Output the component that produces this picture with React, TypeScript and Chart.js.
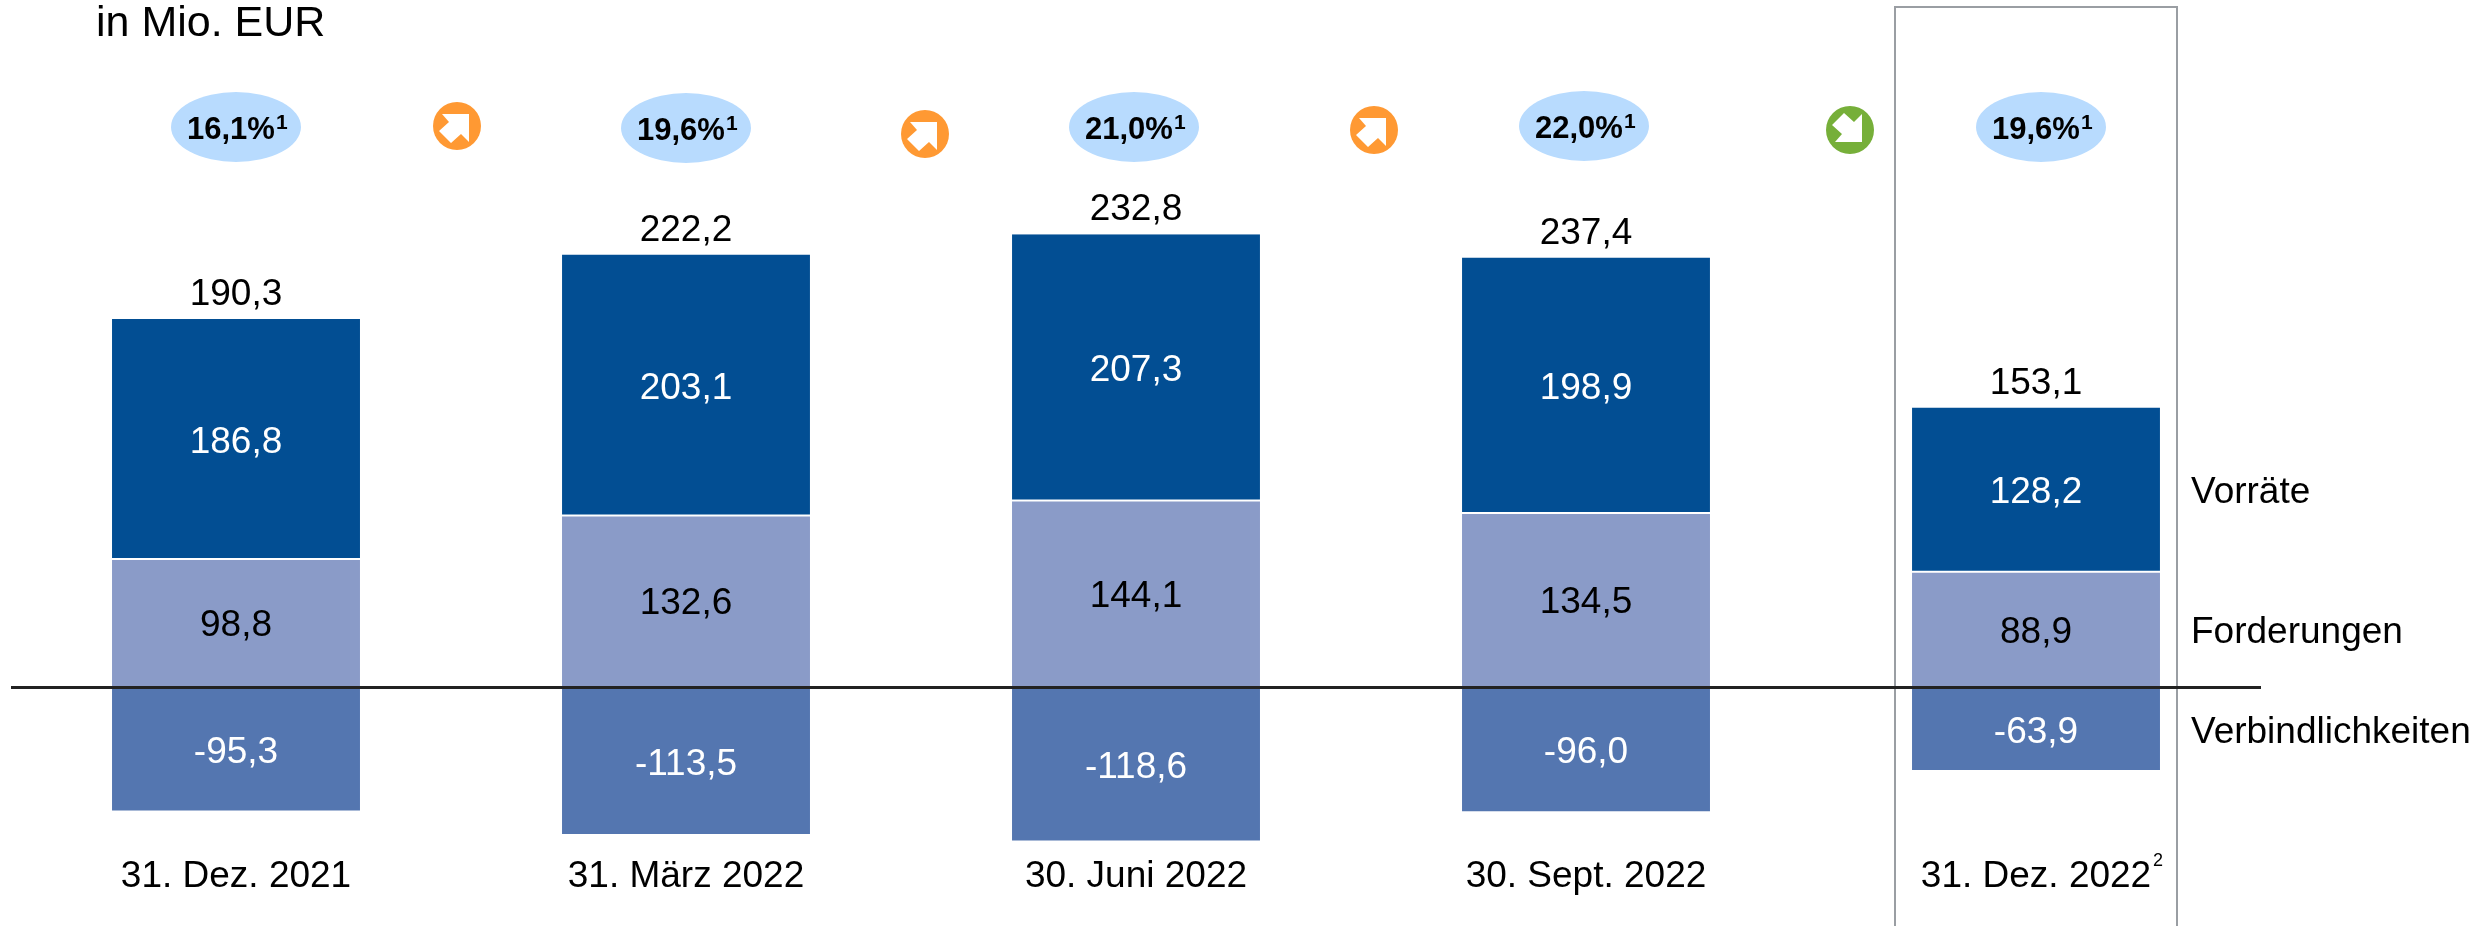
import React, { useEffect, useRef } from "react";
import { Chart, registerables } from "chart.js";

Chart.register(...registerables);

const categories = ["31. Dez. 2021", "31. März 2022", "30. Juni 2022", "30. Sept. 2022", "31. Dez. 2022"];
const vorraete = [186.8, 203.1, 207.3, 198.9, 128.2];
const forderungen = [98.8, 132.6, 144.1, 134.5, 88.9];
const verbindlichkeiten = [-95.3, -113.5, -118.6, -96.0, -63.9];
const totals = [190.3, 222.2, 232.8, 237.4, 153.1];
const ratios = ["16,1%", "19,6%", "21,0%", "22,0%", "19,6%"];
const seriesNames = ["Vorräte", "Forderungen", "Verbindlichkeiten"];
const unitLabel = "in Mio. EUR";

const FONT = '"Liberation Sans", Arial, sans-serif';
const fmt = (v: number) => v.toFixed(1).replace(".", ",");

// Overlay layout (page pixels)
const ellipseCenters = [[236, 127], [686, 128], [1134, 127], [1584, 126], [2041, 127]];
const badges = [
  { x: 457, y: 126, up: true },
  { x: 925, y: 134, up: true },
  { x: 1374, y: 130, up: true },
  { x: 1850, y: 130, up: false },
];
const arrowShape = [[-15, -12], [12, -12], [12, 16], [4, 8], [-6, 17], [-18, 5], [-8, -4]];

const overlay = {
  id: "overlay",
  afterDatasetsDraw(chart: any) {
    const { ctx } = chart;
    const fMeta = chart.getDatasetMeta(0);
    const vMeta = chart.getDatasetMeta(1);
    const nMeta = chart.getDatasetMeta(2);
    ctx.save();
    ctx.textAlign = "center";
    ctx.textBaseline = "alphabetic";

    const centerText = (t: string, x: number, cy: number, color: string, size = 37) => {
      ctx.font = `${size}px ${FONT}`;
      ctx.fillStyle = color;
      ctx.fillText(t, x, cy + size * 0.358);
    };

    categories.forEach((_, i) => {
      const v = vMeta.data[i];
      const f = fMeta.data[i];
      const n = nMeta.data[i];
      centerText(fmt(vorraete[i]), v.x, (v.y + v.base) / 2, "#ffffff");
      centerText(fmt(forderungen[i]), f.x, (f.y + f.base) / 2, "#000000");
      centerText(fmt(verbindlichkeiten[i]), n.x, (n.y + n.base) / 2, "#ffffff");
      centerText(fmt(totals[i]), v.x, v.y - 27, "#000000");
    });

    // series labels beside the last column
    const last = categories.length - 1;
    ctx.textAlign = "left";
    [vMeta, fMeta, nMeta].forEach((m, i) => {
      const el = m.data[last];
      centerText(seriesNames[i], 2191, (el.y + el.base) / 2, "#000000");
    });

    // unit
    ctx.font = `43px ${FONT}`;
    ctx.fillStyle = "#000000";
    ctx.fillText(unitLabel, 96, 36);

    // highlight frame
    ctx.strokeStyle = "#9A9EA3";
    ctx.lineWidth = 2;
    ctx.beginPath();
    ctx.moveTo(1895, 926);
    ctx.lineTo(1895, 7);
    ctx.lineTo(2177, 7);
    ctx.lineTo(2177, 926);
    ctx.stroke();

    // ratio ellipses
    ratios.forEach((r, i) => {
      const [x, y] = ellipseCenters[i];
      ctx.fillStyle = "#B8DBFE";
      ctx.beginPath();
      ctx.ellipse(x, y, 65, 35, 0, 0, Math.PI * 2);
      ctx.fill();
      ctx.fillStyle = "#000000";
      ctx.textAlign = "left";
      ctx.font = `bold 31px ${FONT}`;
      const w = ctx.measureText(r).width;
      const sx = x - 49;
      ctx.fillText(r, sx, y + 12);
      ctx.font = `bold 21px ${FONT}`;
      ctx.fillText("1", sx + w + 1, y + 2);
    });

    // trend badges
    badges.forEach((b) => {
      ctx.fillStyle = b.up ? "#FF9933" : "#76AF39";
      ctx.beginPath();
      ctx.arc(b.x, b.y, 24, 0, Math.PI * 2);
      ctx.fill();
      ctx.fillStyle = "#ffffff";
      ctx.beginPath();
      arrowShape.forEach(([dx, dy], k) => {
        const px = b.x + dx;
        const py = b.y + (b.up ? dy : -dy);
        if (k === 0) ctx.moveTo(px, py);
        else ctx.lineTo(px, py);
      });
      ctx.closePath();
      ctx.fill();
    });

    // footnote on last category
    ctx.fillStyle = "#000000";
    ctx.font = `18px ${FONT}`;
    ctx.textAlign = "left";
    ctx.fillText("2", 2153, 866);
    ctx.restore();
  },
};

export default function App() {
  const ref = useRef<HTMLCanvasElement>(null);
  useEffect(() => {
    document.body.style.margin = "0";
    const chart = new Chart(ref.current as HTMLCanvasElement, {
      type: "bar",
      data: {
        labels: categories,
        datasets: [
          { label: seriesNames[1], data: forderungen, backgroundColor: "#8A9BC8", stack: "s" },
          { label: seriesNames[0], data: vorraete, backgroundColor: "#024E93", borderColor: "#ffffff", borderWidth: { bottom: 2 }, borderSkipped: false, stack: "s" },
          { label: seriesNames[2], data: verbindlichkeiten, backgroundColor: "#5476B0", stack: "s" },
        ].map((d) => ({ ...d, categoryPercentage: 1, barPercentage: 0.551 })) as any,
      },
      options: {
        responsive: false,
        animation: false,
        layout: { padding: { left: 11, right: 218, top: 0, bottom: 0 } },
        plugins: { legend: { display: false }, tooltip: { enabled: false } },
        scales: {
          x: {
            stacked: true,
            grid: { display: false, drawTicks: false },
            border: { display: false },
            ticks: { color: "#000000", font: { family: FONT, size: 37 }, padding: 5, maxRotation: 0, autoSkip: false },
            afterFit: (s: any) => { s.height = 76; },
          },
          y: {
            stacked: true,
            min: -126,
            max: 533,
            afterFit: (s: any) => { s.width = 0; },
            border: { display: false },
            ticks: { display: false, stepSize: 100 },
            grid: {
              z: 1,
              drawTicks: false,
              lineWidth: 3,
              color: (c: any) => (c.tick && c.tick.value === 0 ? "#222222" : "transparent"),
            },
          },
        },
      },
      plugins: [overlay],
    } as any);
    return () => chart.destroy();
  }, []);
  return <canvas ref={ref} width={2479} height={926} style={{ display: "block" }} />;
}
